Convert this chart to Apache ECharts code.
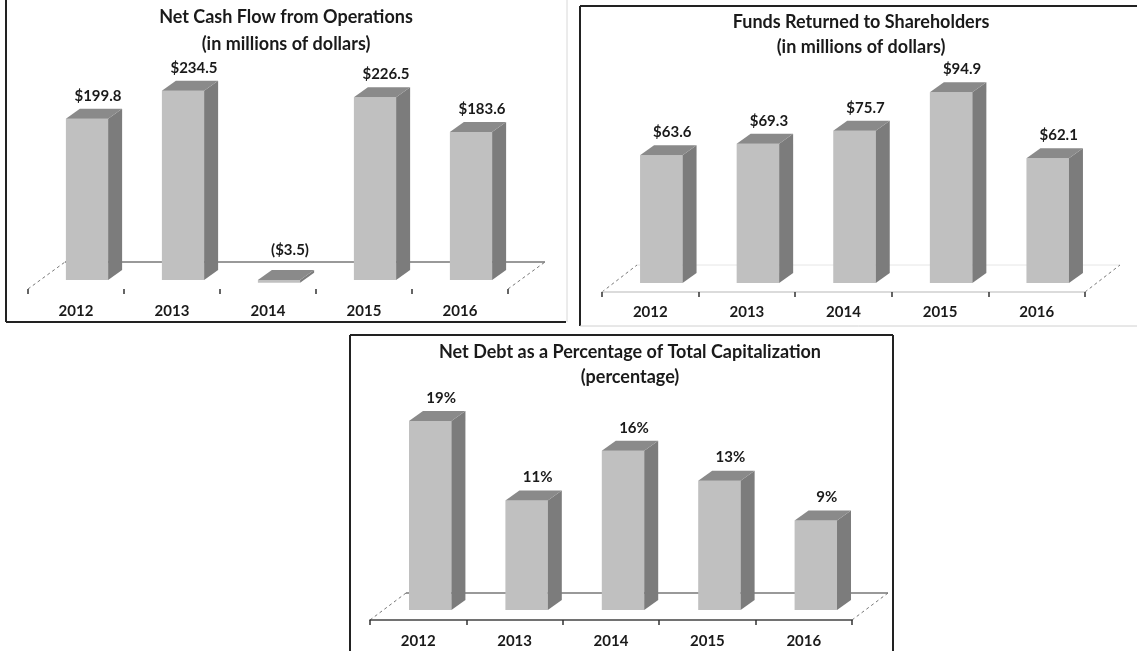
<!DOCTYPE html>
<html>
<head>
<meta charset="utf-8">
<script src="https://cdn.jsdelivr.net/npm/echarts@6/dist/echarts.min.js"></script>
<style>
  html, body { margin: 0; padding: 0; background: #fff; }
  #main { width: 1138px; height: 651px; }
</style>
</head>
<body>
<div id="main"></div>
<script>
  // values
  var years = ['2012', '2013', '2014', '2015', '2016'];
  var cashFlow = [199.8, 234.5, -3.5, 226.5, 183.6];
  var fundsReturned = [63.6, 69.3, 75.7, 94.9, 62.1];
  var netDebtPct = [19, 11, 16, 13, 9];

  var FRONT = '#c0c0c0', SIDE = '#7c7c7c', TOP = '#8a8a8a';
  var FONT = 'Lato, "Open Sans", sans-serif';

  function money(v) {
    return v < 0 ? '($' + Math.abs(v).toFixed(1) + ')' : '$' + v.toFixed(1);
  }
  function pct(v) {
    return v + '%';
  }

  // 3d box drawn from the axis coords, shifted back into the "depth" of the floor
  function bar3d(offX, offY, fmt) {
    return function (params, api) {
      var i = api.value(0), v = api.value(1);
      var base = api.coord([i, 0]);
      var top = api.coord([i, v]);
      var bw = api.size([1, 0])[0] * 0.44;
      var dx = 14, dy = -10;
      var x0 = base[0] + offX - bw / 2, x1 = x0 + bw;
      var yb = base[1] + offY, yt = top[1] + offY;
      var hi = Math.min(yb, yt), lo = Math.max(yb, yt);
      var labelY = v < 0 ? hi + dy - 20 : hi + dy - 13;
      return {
        type: 'group',
        children: [
          { type: 'rect', shape: { x: x0, y: hi, width: bw, height: Math.max(lo - hi, 1) },
            style: { fill: FRONT } },
          { type: 'polygon', shape: { points: [[x1, hi], [x1 + dx, hi + dy], [x1 + dx, lo + dy], [x1, lo]] },
            style: { fill: SIDE } },
          { type: 'polygon', shape: { points: [[x0, hi], [x0 + dx, hi + dy], [x1 + dx, hi + dy], [x1, hi]] },
            style: { fill: TOP } },
          { type: 'text', style: { text: fmt(v), x: x0 + bw / 2 + dx / 2 + 4, y: labelY,
              align: 'center', verticalAlign: 'middle', fontSize: 15, fontWeight: 'bold',
              fontFamily: FONT, fill: '#1a1a1a' } }
        ]
      };
    };
  }

  function xAx(grid, lineColor, showLine, margin) {
    return {
      gridIndex: grid,
      type: 'category',
      data: years,
      axisLine: { show: showLine, lineStyle: { color: lineColor, width: 1.5 } },
      axisTick: { show: true, interval: 0, length: 5, lineStyle: { color: '#333', width: 1.5 } },
      axisLabel: { interval: 0, margin: margin, color: '#1a1a1a', fontSize: 15, fontWeight: 'bold', fontFamily: FONT },
      splitLine: { show: false }
    };
  }

  function yAx(grid, max) {
    return { gridIndex: grid, type: 'value', min: 0, max: max, show: false, splitLine: { show: false } };
  }

  function titleAt(text, x, top, lh) {
    return {
      text: text, left: x, top: top, textAlign: 'center', padding: 0,
      textStyle: { fontSize: 18, fontWeight: 'bold', lineHeight: lh, color: '#1a1a1a', fontFamily: FONT }
    };
  }

  function line(x1, y1, x2, y2, color, width, dash) {
    return { type: 'line', z: 0, shape: { x1: x1, y1: y1, x2: x2, y2: y2 },
      style: { stroke: color, lineWidth: width, lineDash: dash || null } };
  }

  var myChart = echarts.init(document.getElementById('main'));
  myChart.setOption({
    backgroundColor: '#fff',
    animation: false,
    title: [
      titleAt('Net Cash Flow from Operations\n(in millions of dollars)', 286, 4, 27),
      titleAt('Funds Returned to Shareholders\n(in millions of dollars)', 861, 10, 25),
      titleAt('Net Debt as a Percentage of Total Capitalization\n(percentage)', 630, 340, 25)
    ],
    grid: [
      { left: 28, top: 47, width: 480, height: 242 },
      { left: 602, top: 91, width: 483, height: 201 },
      { left: 370, top: 421, width: 482, height: 199 }
    ],
    xAxis: [
      xAx(0, '#555', false, 15),
      xAx(1, '#cfcfcf', true, 13),
      xAx(2, '#444', true, 14)
    ],
    yAxis: [yAx(0, 300), yAx(1, 100), yAx(2, 20)],
    graphic: [
      // frames
      line(6, 0, 6, 322, '#222', 2),
      line(6, 322, 566, 322, '#222', 2),
      line(567, 0, 567, 322, '#d8d8d8', 1),
      line(580, 6, 1137, 6, '#222', 2),
      line(580, 6, 580, 326, '#222', 2),
      line(580, 326, 1137, 326, '#d0d0d0', 1),
      line(350, 335, 893, 335, '#222', 2),
      line(350, 335, 350, 651, '#222', 2),
      line(893, 335, 893, 651, '#222', 2),
      // floors
      line(65, 262, 545, 262, '#777', 1.5),
      line(28, 289, 65, 262, '#777', 1, [3, 3]),
      line(508, 289, 545, 262, '#777', 1, [3, 3]),
      line(637, 265, 1120, 265, '#e6e6e6', 1),
      line(602, 292, 637, 265, '#777', 1, [3, 3]),
      line(1085, 292, 1120, 265, '#777', 1, [3, 3]),
      line(406, 593, 888, 593, '#777', 1.5),
      line(370, 620, 406, 593, '#777', 1, [3, 3]),
      line(852, 620, 888, 593, '#777', 1, [3, 3])
    ],
    series: [
      { type: 'custom', xAxisIndex: 0, yAxisIndex: 0, z: 5,
        renderItem: bar3d(11, -9, money),
        data: cashFlow.map(function (v, i) { return [i, v]; }) },
      { type: 'custom', xAxisIndex: 1, yAxisIndex: 1, z: 5,
        renderItem: bar3d(11, -9, money),
        data: fundsReturned.map(function (v, i) { return [i, v]; }) },
      { type: 'custom', xAxisIndex: 2, yAxisIndex: 2, z: 5,
        renderItem: bar3d(12, -10, pct),
        data: netDebtPct.map(function (v, i) { return [i, v]; }) }
    ]
  });
</script>
</body>
</html>
